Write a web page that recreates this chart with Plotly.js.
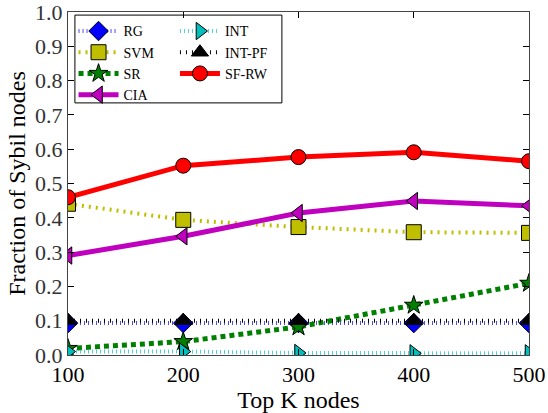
<!DOCTYPE html>
<html><head><meta charset="utf-8">
<script src="https://cdn.plot.ly/plotly-3.0.1.min.js"></script>
<style>html,body{margin:0;padding:0;background:#fff}#c{width:548px;height:413px}</style>
</head><body><div id="c"></div>
<script>
const topK = [100, 200, 300, 400, 500];
const yTicks = [0.0, 0.1, 0.2, 0.3, 0.4, 0.5, 0.6, 0.7, 0.8, 0.9, 1.0];
const yTickText = ['0.0', '0.1', '0.2', '0.3', '0.4', '0.5', '0.6', '0.7', '0.8', '0.9', '1.0'];
const rg    = [0.093, 0.093, 0.093, 0.093, 0.093];
const svm   = [0.441, 0.394, 0.373, 0.358, 0.356];
const sr    = [0.019, 0.039, 0.082, 0.145, 0.209];
const cia   = [0.290, 0.346, 0.414, 0.449, 0.435];
const intv  = [0.010, 0.010, 0.006, 0.005, 0.005];
const intpf = [0.100, 0.100, 0.100, 0.100, 0.100];
const sfrw  = [0.460, 0.552, 0.577, 0.591, 0.565];

const mk = (sym, col) => ({symbol: sym, size: 15, color: col, line: {color: '#000', width: 1}});
const traces = [
  {name: 'RG', y: rg, line: {color: 'rgba(0,0,255,0.7)', width: 4, dash: '1px,3px'}, marker: mk('diamond', '#0000ff'), legend: 'legend'},
  {name: 'SVM', y: svm, line: {color: '#bfbf00', width: 4, dash: '2px,5px'}, marker: mk('square', '#bfbf00'), legend: 'legend'},
  {name: 'SR', y: sr, line: {color: '#008000', width: 5, dash: '5px,4px'}, marker: Object.assign(mk('star', '#008000'), {size: 14}), legend: 'legend'},
  {name: 'CIA', y: cia, line: {color: '#bf00bf', width: 5}, marker: mk('triangle-left', '#bf00bf'), legend: 'legend'},
  {name: 'INT', y: intv, line: {color: 'rgba(0,191,191,0.7)', width: 4, dash: '1px,3px'}, marker: mk('triangle-right', '#00bfbf'), legend: 'legend2'},
  {name: 'INT-PF', y: intpf, line: {color: '#000', width: 4, dash: '1px,5px'}, marker: mk('triangle-up', '#000'), legend: 'legend2'},
  {name: 'SF-RW', y: sfrw, line: {color: '#ff0000', width: 5}, marker: mk('circle', '#ff0000'), legend: 'legend2'}
].map(t => Object.assign({x: topK, type: 'scatter', mode: 'lines+markers'}, t));

const fam = '"Liberation Serif", "Times New Roman", serif';
const legFont = {family: fam, size: 14, color: '#000'};
const layout = {
  width: 548, height: 413,
  margin: {l: 68, r: 19, t: 12, b: 58},
  paper_bgcolor: '#fff', plot_bgcolor: '#fff',
  font: {family: fam, size: 22, color: '#000'},
  showlegend: true,
  legend: {
    orientation: 'v', x: 0.012, y: 0.99, xanchor: 'left', yanchor: 'top',
    bgcolor: 'rgba(0,0,0,0)', borderwidth: 0, font: legFont,
    tracegroupgap: 0, itemwidth: 40, traceorder: 'normal'
  },
  legend2: {
    orientation: 'v', x: 0.232, y: 0.99, xanchor: 'left', yanchor: 'top',
    bgcolor: 'rgba(0,0,0,0)', borderwidth: 0, font: legFont,
    tracegroupgap: 0, itemwidth: 40, traceorder: 'normal'
  },
  shapes: [{
    type: 'rect', xref: 'paper', yref: 'paper', layer: 'below',
    x0: 0.015, x1: 0.464, y0: 0.735, y1: 0.991,
    line: {color: '#000', width: 1}, fillcolor: '#fff'
  }],
  xaxis: {
    range: [100, 500], tickvals: topK,
    ticks: 'inside', ticklen: 6, tickcolor: '#000', mirror: 'ticks',
    showline: true, linecolor: '#444', linewidth: 1, showgrid: false, zeroline: false,
    tickfont: {family: fam, size: 22, color: '#000'},
    title: {text: 'Top K nodes', font: {family: fam, size: 24, color: '#000'}, standoff: 0}
  },
  yaxis: {
    range: [0, 1], tickvals: yTicks, ticktext: yTickText, ticklabeloverflow: 'allow',
    ticks: 'inside', ticklen: 6, tickcolor: '#000', mirror: 'ticks',
    showline: true, linecolor: '#444', linewidth: 1, showgrid: false, zeroline: false,
    tickfont: {family: fam, size: 22, color: '#333'},
    title: {text: 'Fraction of Sybil nodes', font: {family: fam, size: 24, color: '#000'}, standoff: 2}
  }
};
Plotly.newPlot('c', traces, layout, {staticPlot: true});
</script></body></html>
